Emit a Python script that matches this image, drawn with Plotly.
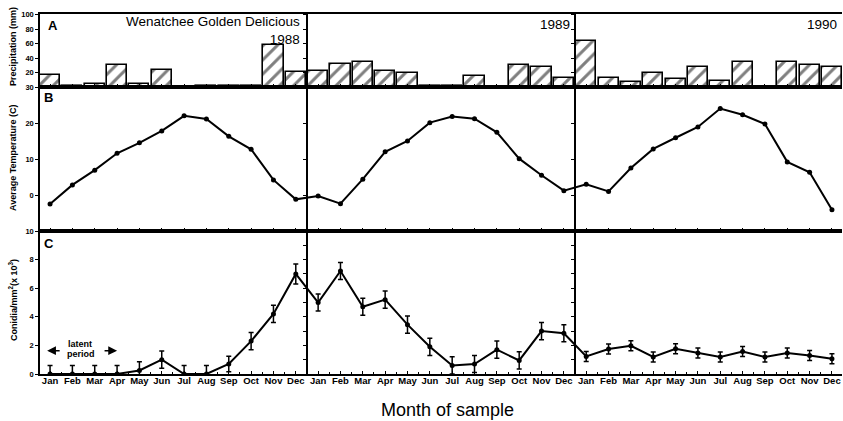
import plotly.graph_objects as go

# ---------------- data ----------------
month_names = ["Jan", "Feb", "Mar", "Apr", "May", "Jun", "Jul", "Aug", "Sep", "Oct", "Nov", "Dec"]
years = ["1988", "1989", "1990"]

precip_1988 = [17, 1, 4, 31, 4, 24, 0, 2, 2, 1, 58, 21]
precip_1989 = [22, 32, 35, 22, 19, 1, 1, 15, 0, 31, 27, 13]
precip_1990 = [64, 13, 7, 20, 11, 28, 8, 34, 0, 34, 30, 28]

temp_1988 = [-2.5, 2.8, 6.9, 11.6, 14.5, 17.8, 22.0, 21.1, 16.3, 12.7, 4.2, -1.2]
temp_1989 = [-0.3, -2.4, 4.4, 12.0, 15.0, 20.1, 21.8, 21.2, 17.4, 10.1, 5.5, 1.2]
temp_1990 = [3.0, 1.0, 7.5, 12.8, 15.9, 18.9, 24.0, 22.3, 19.7, 9.2, 6.3, -4.1]

conidia_1988 = [0, 0, 0, 0, 0.25, 1.0, 0, 0, 0.7, 2.3, 4.2, 7.0]
conidia_1989 = [5.0, 7.2, 4.7, 5.2, 3.45, 1.9, 0.6, 0.7, 1.7, 0.95, 3.0, 2.85]
conidia_1990 = [1.23, 1.75, 1.97, 1.19, 1.77, 1.47, 1.19, 1.58, 1.19, 1.47, 1.3, 1.07]

err_1988 = [0.6, 0.6, 0.6, 0.6, 0.6, 0.6, 0.6, 0.6, 0.55, 0.6, 0.6, 0.7]
err_1989 = [0.6, 0.6, 0.6, 0.6, 0.6, 0.6, 0.6, 0.6, 0.6, 0.6, 0.6, 0.6]
err_1990 = [0.35, 0.35, 0.35, 0.35, 0.35, 0.35, 0.35, 0.35, 0.35, 0.35, 0.35, 0.35]

# ---------------- assemble ----------------
precip = precip_1988 + precip_1989 + precip_1990
temp = temp_1988 + temp_1989 + temp_1990
conidia = conidia_1988 + conidia_1989 + conidia_1990
errs = err_1988 + err_1989 + err_1990
labels = month_names * len(years)
xs = list(range(len(labels)))
separators = [len(month_names) * (k + 1) - 0.5 for k in range(len(years) - 1)]

XMIN, XMAX = -0.45, len(labels) - 1 + 0.45
FONT = "Liberation Sans, Arial, sans-serif"

# pixel geometry helpers (plot area: x 40..842, y 14..374)
W, H = 843, 421
ML, MR, MT, MB = 40, 1, 14, 47
PW, PH = W - ML - MR, H - MT - MB


def px(xp):
    return (xp - ML) / PW


def py(yp):
    return (H - MB - yp) / PH


domC = [0, py(231)]
domB = [py(231), py(87)]
domA = [py(87), 1]

fig = go.Figure()

fig.add_trace(go.Bar(
    x=xs, y=precip, width=0.9, xaxis="x", yaxis="y",
    marker=dict(color="white", line=dict(color="black", width=1.6),
                pattern=dict(shape="/", fgcolor="black", bgcolor="white", size=10, solidity=0.3)),
    showlegend=False, hoverinfo="skip",
))

fig.add_trace(go.Scatter(
    x=xs, y=temp, xaxis="x2", yaxis="y2", mode="lines+markers",
    line=dict(color="black", width=2), marker=dict(color="black", size=5),
    showlegend=False,
))

fig.add_trace(go.Scatter(
    x=xs, y=conidia, xaxis="x3", yaxis="y3", mode="lines+markers",
    line=dict(color="black", width=2), marker=dict(color="black", size=5),
    error_y=dict(type="data", array=errs, visible=True, color="black", thickness=1.5, width=2.5),
    showlegend=False,
))

axis_common = dict(showline=True, linecolor="black", linewidth=1.5, showgrid=False, zeroline=False,
                   tickcolor="black", tickfont=dict(family=FONT, size=7.5, color="black", weight="bold"))

xcommon = dict(axis_common, range=[XMIN, XMAX], tickvals=xs, ticktext=labels, mirror=True,
               ticks="inside", ticklen=3, tickwidth=1,
               minor=dict(ticks="inside", ticklen=2, dtick=0.5, tick0=0.5, tickcolor="black"))

fig.update_layout(
    width=W, height=H,
    margin=dict(l=ML, r=MR, t=MT, b=MB),
    paper_bgcolor="white", plot_bgcolor="white",
    font=dict(family=FONT, color="black"),
    bargap=0,
    xaxis=dict(xcommon, anchor="y", showticklabels=False, matches="x3"),
    xaxis2=dict(xcommon, anchor="y2", showticklabels=False, matches="x3"),
    xaxis3=dict(xcommon, anchor="y3", showticklabels=True, ticklabelstandoff=-3,
                tickfont=dict(family=FONT, size=9.5, color="black", weight="bold")),
    yaxis=dict(axis_common, domain=domA, range=[0, 101], anchor="x",
               tickvals=[20, 40, 60, 80, 100], ticks="outside", ticklen=3),
    yaxis2=dict(axis_common, domain=domB, range=[-10, 30], anchor="x2",
                tickvals=[0, 10, 20, 30], ticks="outside", ticklen=3),
    yaxis3=dict(axis_common, domain=domC, range=[0, 10], anchor="x3",
                tickvals=[0, 2, 4, 6, 8, 10], ticks="outside", ticklen=3),
)

# year separators drawn as free y-axes with ticks (each needs a trace to be rendered)
sep_specs = [("x", "y", domA, [0, 101], 20), ("x2", "y2", domB, [-10, 30], 10), ("x3", "y3", domC, [0, 10], 1)]
ax_id = 4
for xref, yref, dom, rng, dt in sep_specs:
    for s in separators:
        pos = (s - XMIN) / (XMAX - XMIN)
        fig.layout["yaxis%d" % ax_id] = dict(
            overlaying=yref, anchor="free", position=pos, range=rng,
            showline=True, linecolor="black", linewidth=1.5, showgrid=False, zeroline=False,
            showticklabels=False, ticks="outside", ticklen=3, tickcolor="black", dtick=dt, tick0=0,
        )
        fig.add_trace(go.Scatter(x=[None], y=[None], xaxis=xref, yaxis="y%d" % ax_id,
                                 mode="markers", showlegend=False, hoverinfo="skip"))
        ax_id += 1

ann = []
tfont = dict(family=FONT, size=9, color="black", weight="bold")
ann.append(dict(text="Precipitation (mm)", x=px(13), y=py(47), xref="paper", yref="paper",
                textangle=-90, showarrow=False, font=tfont, xanchor="center", yanchor="middle"))
ann.append(dict(text="Average Temperature (C)", x=px(13), y=py(158), xref="paper", yref="paper",
                textangle=-90, showarrow=False, font=tfont, xanchor="center", yanchor="middle"))
ann.append(dict(text="Conidia/mm<sup>2</sup>(x 10<sup>3</sup>)", x=px(13), y=py(300), xref="paper", yref="paper",
                textangle=-90, showarrow=False, font=tfont, xanchor="center", yanchor="middle"))
ann.append(dict(text="Month of sample", x=px(448), y=py(410), xref="paper", yref="paper",
                showarrow=False, font=dict(family=FONT, size=18, color="black"), xanchor="center", yanchor="middle"))

lfont = dict(family=FONT, size=13, color="black", weight="bold")
for letter, (lx, ly) in zip(["A", "B", "C"], [(53, 25), (48, 98), (49, 243)]):
    ann.append(dict(text=letter, x=px(lx), y=py(ly), xref="paper", yref="paper", showarrow=False,
                    font=lfont, xanchor="center", yanchor="middle"))

hfont = dict(family=FONT, size=13.5, color="black")
ann.append(dict(text="Wenatchee Golden Delicious<br>" + years[0], x=px(302), y=py(12), xref="paper", yref="paper",
                showarrow=False, font=hfont, xanchor="right", yanchor="top", align="right"))
ann.append(dict(text=years[1], x=px(572), y=py(24), xref="paper", yref="paper",
                showarrow=False, font=hfont, xanchor="right", yanchor="middle"))
ann.append(dict(text=years[2], x=px(839), y=py(24), xref="paper", yref="paper",
                showarrow=False, font=hfont, xanchor="right", yanchor="middle"))

sfont = dict(family=FONT, size=9, color="black", weight="bold")
ann.append(dict(text="latent", x=1.34, y=2.11, xref="x3", yref="y3", showarrow=False, font=sfont))
ann.append(dict(text="period", x=1.39, y=1.42, xref="x3", yref="y3", showarrow=False, font=sfont))
ann.append(dict(x=-0.13, y=1.63, xref="x3", yref="y3", ax=14, ay=0, showarrow=True,
                arrowhead=2, arrowsize=1.1, arrowwidth=1.6, arrowcolor="black", text=""))
ann.append(dict(x=3.0, y=1.63, xref="x3", yref="y3", ax=-14, ay=0, showarrow=True,
                arrowhead=2, arrowsize=1.1, arrowwidth=1.6, arrowcolor="black", text=""))

fig.update_layout(annotations=ann)

fig.write_html("out.html")
